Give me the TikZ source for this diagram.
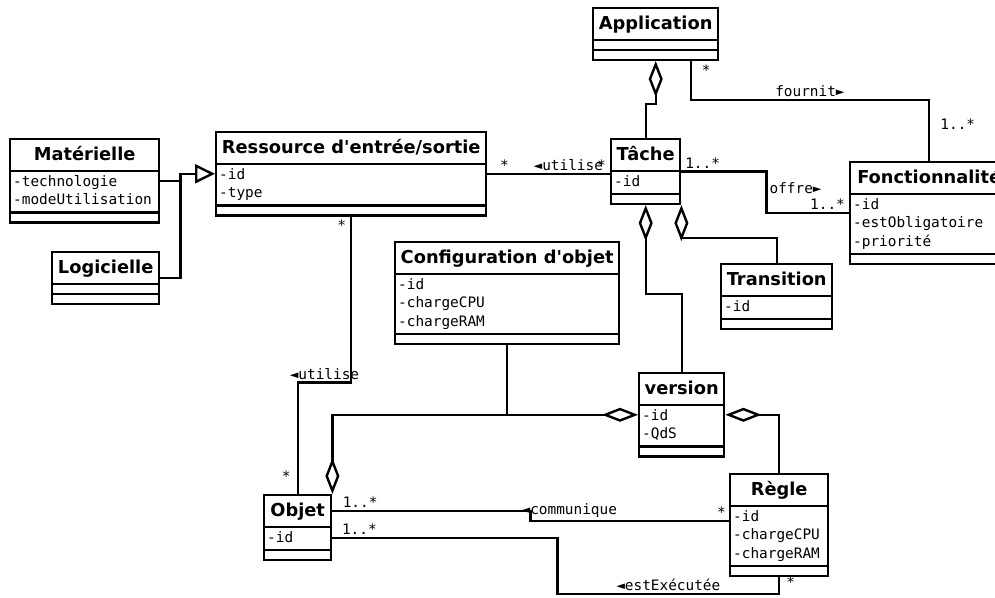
\documentclass[tikz,border=0pt]{standalone}
\usepackage{fontspec}
\setmainfont{DejaVu Sans}
\newfontfamily\umlmono{DejaVu Sans Mono}
\usetikzlibrary{shapes.multipart,arrows.meta,calc}
\newcommand{\ctitle}[1]{{\rmfamily\bfseries\fontsize{17.8}{27.5}\selectfont\strut#1}}
\newcommand{\fields}[1]{\begin{tabular}{@{}l@{}}#1\end{tabular}}

\begin{document}
\begin{tikzpicture}[x=1pt,y=-1pt,line width=2.4pt,umlclass/.style={rectangle split, rectangle split parts=3, draw, anchor=north west, inner xsep=3pt, inner ysep=1pt, rectangle split part align={center,left,left}, rectangle split empty part height=4.5pt, rectangle split empty part depth=0pt, font=\fontsize{14.4}{18.5}\selectfont\umlmono},lbl/.style={font=\fontsize{14.4}{16}\selectfont\umlmono, inner sep=2pt},aggr/.style={-{Diamond[open,length=36pt,width=14pt]}},aggrboth/.style={{Diamond[open,length=36pt,width=14pt]}-{Diamond[open,length=36pt,width=14pt]}},gen/.style={-{Triangle[open,length=20pt,width=19pt]}}]
                \useasboundingbox (0,0) rectangle (995,597);
                \node[umlclass, minimum width=125pt] (appli) at (592,7) {\ctitle{Application}\nodepart{two}\nodepart{three}};
                \node[umlclass, minimum width=69pt] (tache) at (610,138) {\ctitle{Tâche}\nodepart{two}\fields{-id}\nodepart{three}};
                \node[umlclass, minimum width=158pt] (fonc) at (849,161) {\ctitle{Fonctionnalité}\nodepart{two}\fields{-id\\-estObligatoire\\-priorité}\nodepart{three}};
                \node[umlclass, minimum width=270pt] (res) at (215,131) {\ctitle{Ressource d\textquotesingle entrée/sortie}\nodepart{two}\fields{-id\\-type}\nodepart{three}};
                \node[umlclass, minimum width=149pt] (mat) at (9,138) {\ctitle{Matérielle}\nodepart{two}\fields{-technologie\\-modeUtilisation}\nodepart{three}};
                \node[umlclass, minimum width=107pt] (logi) at (51,251) {\ctitle{Logicielle}\nodepart{two}\nodepart{three}};
                \node[umlclass, minimum width=224pt] (config) at (394,241) {\ctitle{Configuration d\textquotesingle objet}\nodepart{two}\fields{-id\\-chargeCPU\\-chargeRAM}\nodepart{three}};
                \node[umlclass, minimum width=111pt] (transition) at (720,263) {\ctitle{Transition}\nodepart{two}\fields{-id}\nodepart{three}};
                \node[umlclass, minimum width=85pt] (version) at (638,372) {\ctitle{version}\nodepart{two}\fields{-id\\-QdS}\nodepart{three}};
                \node[umlclass, minimum width=98pt] (regle) at (729,473) {\ctitle{Règle}\nodepart{two}\fields{-id\\-chargeCPU\\-chargeRAM}\nodepart{three}};
                \node[umlclass, minimum width=67pt] (objet) at (263,494) {\ctitle{Objet}\nodepart{two}\fields{-id}\nodepart{three}};
                \draw[gen] (mat.east) -- ++(20,0) coordinate (gjoin) |- (res.west);
                \draw (logi.east) -| (gjoin);
                \draw[aggr] (tache.north) -- ++(0,-34) -| (appli.south);
                \draw ($(appli.south)+(35,0)$) node[lbl, anchor=north west, xshift=8pt, yshift=-1pt] {*} -- ++(0,39) -| node[lbl, pos=0.25, above] {fournit►} node[lbl, pos=0.7, right, xshift=8pt] {1..*} (fonc.north);
                \draw (res.east) -- node[lbl, pos=0.14, above] {*} node[lbl, pos=0.66, above] {◄utilise} node[lbl, pos=0.93, above] {*} (tache.west |- res.east);
                \draw (tache.east) -- node[lbl, pos=0.25, above] {1..*} ++(85,0) |- node[lbl, pos=0.2, right] {offre►} node[lbl, pos=0.87, above] {1..*} (fonc.west);
                \draw[aggr] (version.north) -- ++(0,-78) -| (tache.south);
                \draw[aggr] (transition.north) -- ++(0,-25) -| (tache.south east);
                \draw (res.south) node[lbl, below left, xshift=-2pt] {*} -- ++(0,166) -| node[lbl, pos=0.25, above] {◄utilise} node[lbl, pos=0.92, left, xshift=-4pt] {*} (objet.north);
                \draw[aggrboth] (objet.north east) |- (version.west);
                \draw (config.south) -- (config.south |- version.west);
                \draw[aggr] (regle.north) |- (version.east);
                \draw ($(objet.north east)+(0,17)$) -- node[lbl, pos=0.14, above] {1..*} ++(198,0) |- node[lbl, pos=0.5, above right, xshift=-12pt] {◄communique} node[lbl, pos=1, above left] {*} ($(regle.north west)+(0,48)$);
                \draw ($(objet.north east)+(0,44)$) -- node[lbl, pos=0.12, above] {1..*} ++(225,0) -- ++(0,56) -| node[lbl, pos=0.25, above] {◄estExécutée} node[lbl, pos=0.85, right, xshift=4pt] {*} (regle.south);
            \end{tikzpicture}
\end{document}
